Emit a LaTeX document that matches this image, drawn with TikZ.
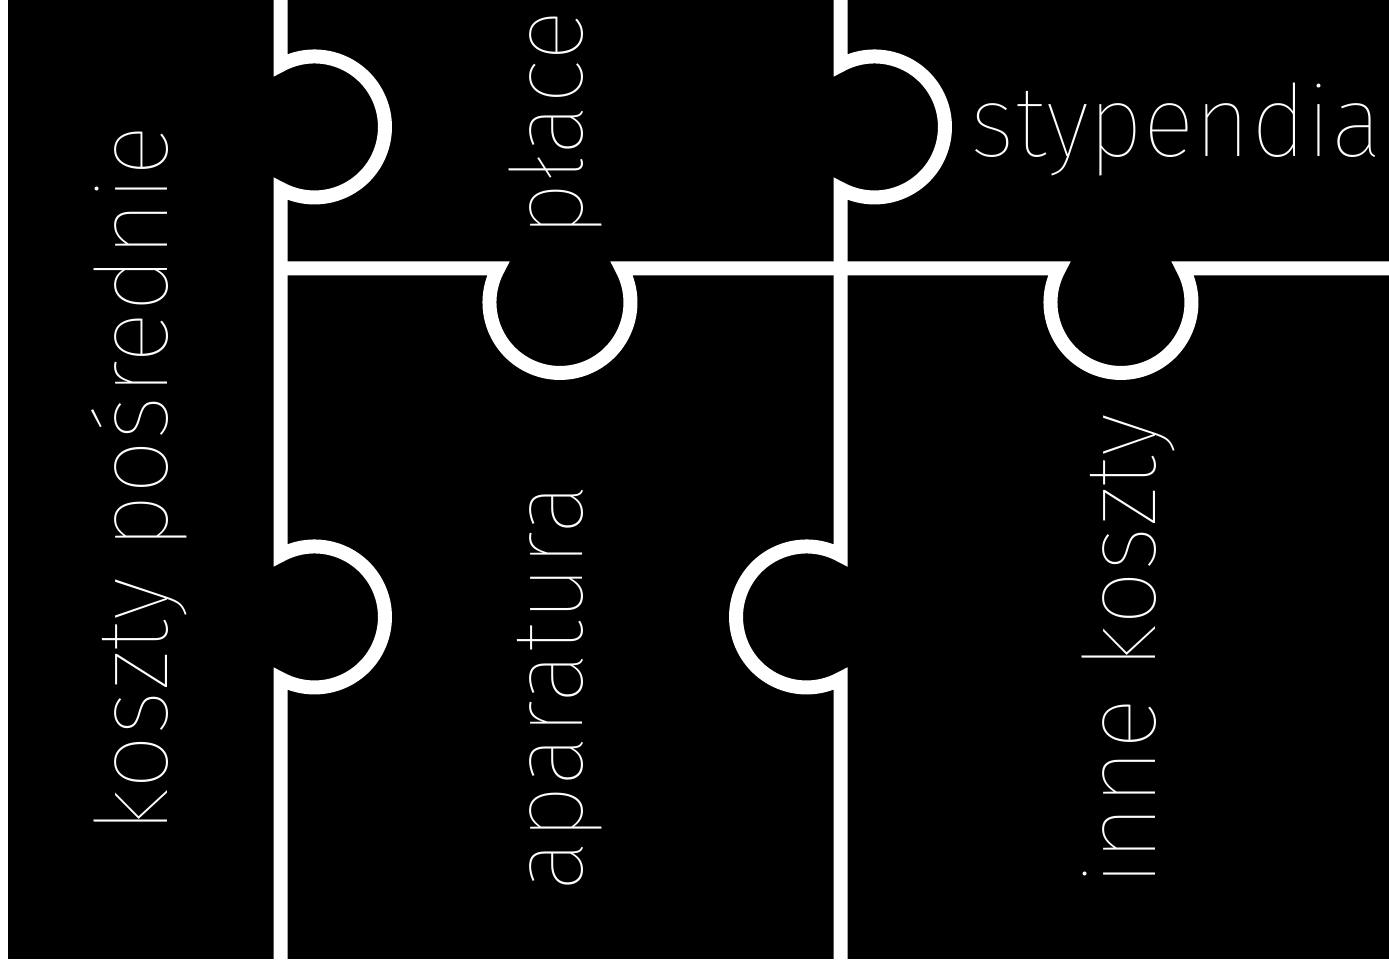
\documentclass[tikz,border=0pt]{standalone}
\usepackage{fontspec}
\IfFontExistsTF{Fira Sans Thin}{\newfontfamily\thinfont{Fira Sans Thin}[FakeStretch=0.965]}{%
 \IfFontExistsTF{Lato Thin}{\newfontfamily\thinfont{Lato Thin}[FakeStretch=0.965]}{%
  \IfFontExistsTF{Fira Sans ExtraLight}{\newfontfamily\thinfont{Fira Sans ExtraLight}[FakeStretch=0.965]}{%
   \IfFontExistsTF{Lato Light}{\newfontfamily\thinfont{Lato Light}[FakeStretch=0.965]}{%
    \IfFontExistsTF{Open Sans Light}{\newfontfamily\thinfont{Open Sans Light}[FakeStretch=0.965]}{%
     \IfFontExistsTF{Fira Sans Light}{\newfontfamily\thinfont{Fira Sans Light}[FakeStretch=0.965]}{%
      \newfontfamily\thinfont{Liberation Sans}}}}}}}
\begin{document}
\begin{tikzpicture}[x=1pt,y=1pt,
    seam/.style={white,line width=14pt},
    piecelabel/.style={white,inner sep=0pt,anchor=base,font=\thinfont\fontsize{100}{100}\selectfont}]
\useasboundingbox (0,0) rectangle (1389,967);
\fill[white] (0,0) rectangle (1389,967);
\fill[black] (8,8) rectangle (1389,967);
\draw[seam](280.5,975)--(280.5,901.8) arc[start angle=118.8,end angle=-118.8,radius=70.5]
    --(280.5,411.8) arc[start angle=118.8,end angle=-118.8,radius=70.5]--(280.5,0);
\draw[seam](840.5,975)--(840.5,901.8) arc[start angle=118.8,end angle=-118.8,radius=70.5]
    --(840.5,411.8) arc[start angle=61.2,end angle=298.8,radius=70.5]--(840.5,0);
\draw[seam](280.5,698.5)--(498.2,698.5) arc[start angle=151.2,end angle=388.8,radius=70.5]
    --(1059.2,698.5) arc[start angle=151.2,end angle=388.8,radius=70.5]--(1389,698.5);
\node[piecelabel,rotate=90](kp) at (167,487.5) {koszty pośrednie};
\node[piecelabel,rotate=90](pl) at (582,843) {płace};
\node[piecelabel,rotate=90](ap) at (582,279.5) {aparatura};
\node[piecelabel,rotate=90](ik) at (1155,317) {inne koszty};
\node[piecelabel](st) at (1176.5,810) {stypendia};
\end{tikzpicture}
\end{document}
